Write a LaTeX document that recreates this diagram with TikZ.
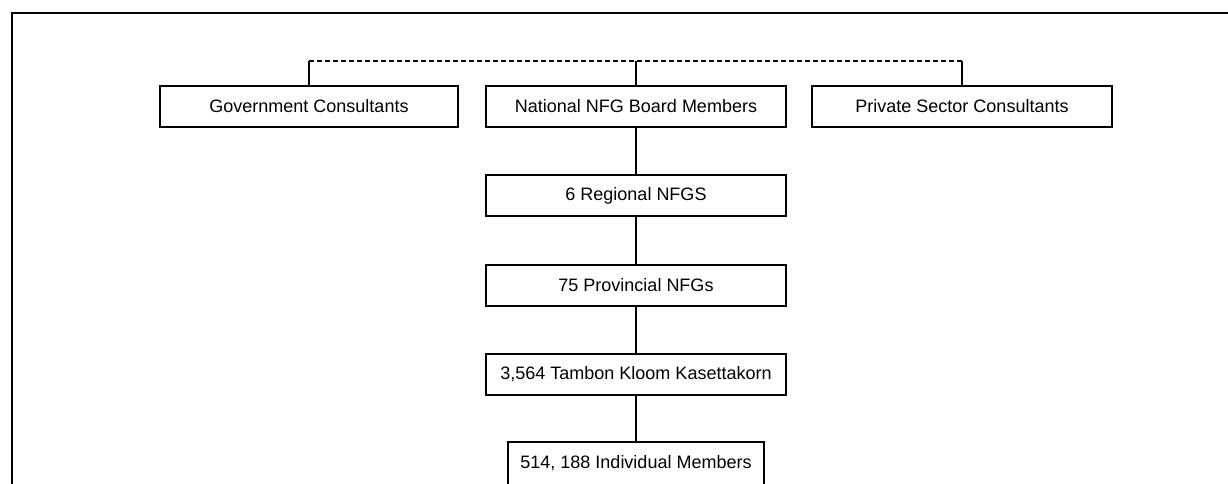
\documentclass[tikz,border=0pt]{standalone}
\usepackage{fontspec}
\setmainfont{Liberation Sans}
\usetikzlibrary{calc}
\begin{document}
\begin{tikzpicture}[x=1pt,y=-1pt,
  orgbox/.style={draw=black, line width=2pt, minimum width=300pt, minimum height=41pt,
    inner sep=0pt, font=\fontsize{18}{20}\selectfont},
  link/.style={draw=black, line width=2pt},
  advisory/.style={draw=black, line width=2pt, dash pattern=on 5pt off 3pt}]
  \useasboundingbox (0,0) rectangle (1228,484);
  \clip (0,0) rectangle (1228,484);

  % outer frame (open to the right and bottom)
  \draw[line width=2pt] (12,490) -- (12,13) -- (1235,13);

  % top row
  \node[orgbox, minimum width=298pt] (gov)  at (309,106.5) {Government Consultants};
  \node[orgbox] (nat)  at (636,106.5) {National NFG Board Members};
  \node[orgbox] (priv) at (962,106.5) {Private Sector Consultants};

  % hierarchy column
  \node[orgbox] (reg)  at (636,195.5) {6 Regional NFGS};
  \node[orgbox] (prov) at (636,285.5) {75 Provincial NFGs};
  \node[orgbox] (tam)  at (636,374.5) {3,564 Tambon Kloom Kasettakorn};
  \node[orgbox, draw=none, minimum width=254pt] (ind) at (636,463.5) {514, 188 Individual Members};
  \draw[link] ($(ind.south west)+(0,8)$) -- (ind.north west) -- (ind.north east) -- ($(ind.south east)+(0,8)$);

  % dashed advisory bar joining the top row
  \coordinate (barL) at ($(gov.north)+(0,-24)$);
  \coordinate (barM) at ($(nat.north)+(0,-24)$);
  \coordinate (barR) at ($(priv.north)+(0,-24)$);
  \draw[advisory] (barL) -- (barR);
  \draw[link] (barL) -- (gov.north);
  \draw[link] (barM) -- (nat.north);
  \draw[link] (barR) -- (priv.north);

  % vertical chain
  \draw[link] (nat.south)  -- (reg.north);
  \draw[link] (reg.south)  -- (prov.north);
  \draw[link] (prov.south) -- (tam.north);
  \draw[link] (tam.south)  -- (ind.north);
\end{tikzpicture}
\end{document}
